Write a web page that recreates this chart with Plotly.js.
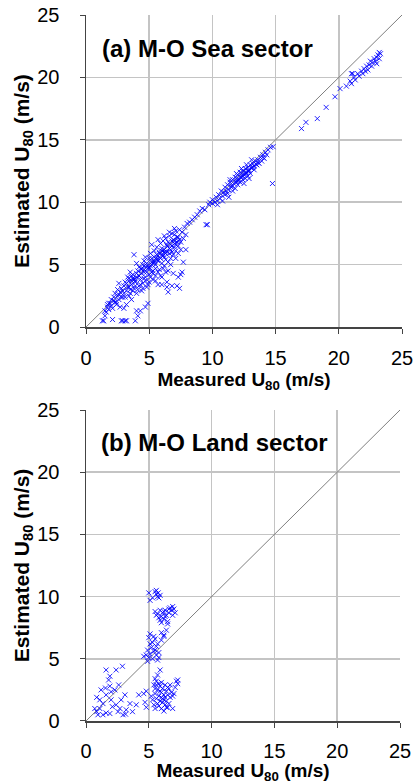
<!DOCTYPE html>
<html>
<head>
<meta charset="utf-8">
<script src="https://cdn.plot.ly/plotly-3.0.1.min.js"></script>
<style>html,body{margin:0;padding:0;background:#fff;}#chart{width:413px;height:784px;}</style>
</head>
<body>
<div id="chart"></div>
<script>
// (a) M-O Sea sector: measured vs estimated U80 (m/s)
const seaMeasured = [
1.3,1.4,1.5,1.6,1.7,1.8,1.9,2.0,2.0,2.1,2.1,2.2,2.3,2.3,2.4,2.5,2.5,2.6,2.6,2.7,2.7,2.8,2.8,2.8,2.9,3.0,3.0,3.0,3.1,3.1,3.2,3.2,3.2,3.3,3.3,3.4,3.4,3.5,3.5,3.6,3.6,3.7,3.7,3.8,3.8,3.9,3.9,4.0,4.0,4.0,4.1,4.1,4.2,4.2,4.3,4.3,4.4,4.4,4.5,4.5,4.6,4.6,4.7,4.7,4.8,4.8,4.9,4.9,5.0,5.0,5.0,5.1,5.1,5.2,5.2,5.3,5.3,5.4,5.4,5.5,5.5,5.6,5.6,5.7,5.7,5.8,5.8,5.9,5.9,6.0,6.0,6.0,6.1,6.1,6.2,6.2,6.3,6.3,6.4,6.4,6.5,6.5,6.5,6.6,6.6,6.7,6.7,6.8,6.8,6.9,6.9,7.0,7.0,7.1,7.1,7.2,7.2,7.3,7.3,7.4,7.4,7.5,7.5,7.6,7.7,7.8,7.9,8.0,8.2,8.4,8.6,8.8,9.0,9.2,9.4,9.5,9.6,9.7,9.8,10.0,
4.4,4.6,4.8,5.2,5.4,5.6,5.8,6.2,6.4,6.6,6.8,7.0,3.6,3.8,4.2,2.4,2.6,2.9,3.4,3.9,1.8,2.2,1.5,1.7,5.0,5.3,5.7,6.1,6.3,6.7,7.1,7.3,
3.2,3.4,3.6,3.8,4.0,4.2,4.4,4.6,4.8,5.0,5.2,5.4,5.6,5.8,6.0,6.2,6.4,6.6,6.8,7.0,7.2,7.4,4.1,4.3,4.5,4.7,4.9,5.1,5.3,5.5,5.7,5.9,6.1,6.3,6.5,6.7,6.9,7.1,7.3,7.5,7.7,7.9,6.0,6.2,5.5,5.2,4.6,3.5,3.7,3.9,2.9,3.1,5.7,6.2,6.6,7.0,4.7,4.0,6.4,6.8,7.6,7.3,
10.0,10.2,10.3,10.4,10.5,10.6,10.7,10.8,10.9,11.0,11.0,11.1,11.2,11.3,11.3,11.4,11.5,11.6,11.6,11.7,11.8,11.8,11.9,12.0,12.0,12.1,12.2,12.2,12.3,12.4,12.4,12.5,12.6,12.6,12.7,12.8,12.8,12.9,13.0,13.0,13.1,13.2,13.3,13.4,13.5,13.6,13.7,13.8,13.9,14.0,14.1,14.2,14.3,14.4,14.6,14.8,14.75,
11.5,11.9,12.3,12.7,13.1,13.5,12.1,12.5,12.9,13.3,
10.4,10.8,11.2,11.6,12.0,12.4,12.8,13.2,13.6,14.0,11.4,11.9,12.3,12.7,13.1,12.5,12.9,
17.05,17.4,18.3,19.0,19.7,20.1,20.6,20.9,21.0,21.0,21.1,21.2,21.3,21.5,21.6,21.8,21.9,22.0,22.1,22.2,22.3,22.4,22.5,22.6,22.7,22.8,22.9,23.0,23.0,23.1,23.2,23.2,23.3
];
const seaEstimated = [
0.5,0.5,0.9,1.2,1.6,1.4,1.9,1.7,2.2,1.5,0.6,2.4,2.0,2.7,1.8,2.5,3.0,2.2,3.5,2.8,1.6,3.1,2.4,0.5,0.5,1.5,3.3,2.7,3.6,0.5,1.8,2.9,0.5,4.0,3.2,2.5,3.7,3.0,4.4,3.4,2.2,3.9,4.2,3.1,5.8,0.5,3.6,1.3,4.0,2.7,4.5,0.9,3.3,4.8,3.8,1.3,4.3,2.9,5.0,3.5,4.6,5.3,4.0,1.6,5.1,3.2,4.7,1.9,5.5,4.2,3.6,5.9,4.9,5.2,6.6,4.5,3.8,5.6,6.1,5.0,4.1,5.8,6.4,5.3,3.4,6.0,4.6,6.7,5.5,6.3,4.0,3.4,6.9,5.8,6.2,4.9,7.1,5.4,6.5,3.2,6.8,4.5,2.8,7.3,5.9,6.6,5.0,7.5,6.0,7.0,4.3,7.4,6.4,5.5,7.7,6.8,3.3,7.2,5.9,7.8,3.1,6.2,4.2,7.6,5.2,8.0,6.2,8.3,8.4,8.6,8.8,9.0,9.3,9.5,9.4,8.2,8.2,9.8,10.0,10.2,
4.6,4.9,4.4,5.0,5.2,5.4,5.6,6.0,6.0,6.3,6.5,6.9,3.7,3.9,4.1,2.0,2.6,2.4,3.2,3.7,1.9,2.1,1.3,1.8,4.8,5.1,5.4,5.7,5.9,6.2,6.6,6.9,
3.5,3.9,4.1,3.8,4.3,4.1,4.7,4.4,4.9,4.7,5.5,5.3,5.6,5.9,6.1,6.0,6.6,6.3,6.9,6.7,7.2,7.0,3.0,3.4,3.1,3.7,3.4,4.0,4.3,3.7,4.4,4.1,4.7,4.4,5.2,5.5,5.8,6.1,6.5,6.8,7.1,7.4,5.1,5.6,4.7,4.4,3.9,2.7,2.9,3.3,2.9,2.4,7.0,7.3,7.6,7.9,5.6,5.1,3.6,3.3,4.4,4.0,
9.9,10.0,10.4,10.1,10.6,10.3,10.9,10.5,10.8,11.2,10.6,10.9,11.4,11.0,10.4,11.6,11.2,11.8,10.9,11.5,12.0,11.1,11.7,12.2,11.4,11.9,12.4,11.6,12.1,12.5,11.8,12.3,12.7,11.9,12.4,12.8,12.1,12.6,13.0,12.3,12.8,13.1,12.6,13.3,13.0,13.4,13.1,13.6,13.3,13.8,13.5,14.0,13.8,14.2,14.4,14.45,11.5,
11.3,11.6,12.0,12.3,12.7,13.0,11.8,12.2,12.5,12.9,
9.8,10.1,10.7,11.3,11.7,12.1,12.5,12.8,13.2,13.6,11.8,12.3,12.7,13.0,13.4,11.5,11.9,
15.9,16.4,16.7,17.6,18.45,19.1,19.3,19.7,19.5,20.3,20.3,20.0,19.8,20.3,20.1,20.5,20.3,20.7,20.5,20.9,20.6,21.0,21.3,20.9,21.2,21.5,21.3,21.6,21.1,21.8,21.5,22.0,21.9
];

// (b) M-O Land sector
const landMeasured = [
5.0,5.5,5.6,5.7,5.8,5.3,5.1,5.6,5.75,5.9,
5.5,5.7,5.9,6.0,6.1,6.2,6.3,6.4,6.5,6.6,6.7,6.8,6.9,7.0,7.1,6.5,5.8,6.0,6.3,5.6,6.6,6.9,6.2,5.9,
5.1,5.0,5.3,5.5,5.6,5.2,5.4,4.9,4.8,4.6,5.0,5.3,5.6,5.7,5.8,4.9,5.1,5.5,6.0,6.2,6.4,6.2,6.0,5.7,5.4,5.1,5.8,
5.9,5.7,5.5,5.6,5.4,5.8,5.5,5.7,5.9,6.0,6.1,6.3,6.4,6.2,6.0,5.8,5.6,5.5,6.5,6.6,6.8,6.7,6.9,7.0,7.2,7.3,7.1,6.9,6.5,6.3,6.1,6.0,5.8,5.7,6.2,6.4,6.6,6.4,6.2,5.9,4.8,4.7,4.8,5.2,5.3,5.4,4.6,5.6,5.9,6.1,6.3,6.0,5.5,7.3,6.7,6.5,
1.6,2.4,2.9,1.9,1.8,1.55,1.9,2.0,1.1,0.85,1.35,0.7,0.95,1.35,1.6,2.1,2.4,2.7,2.95,3.2,2.8,3.1,3.5,4.0,4.2,2.3,2.6,2.0,1.6,1.2,1.9,2.55,3.15,3.7,0.85,1.1
];
const landEstimated = [
10.3,10.4,10.2,10.0,9.9,9.9,9.7,10.5,10.3,10.1,
8.8,8.6,8.9,8.4,8.7,8.2,8.9,8.5,8.0,8.7,9.1,8.9,9.2,9.0,8.7,7.8,8.3,7.9,8.4,8.5,9.0,8.5,8.8,8.1,
7.0,6.7,6.3,6.6,6.0,5.9,5.6,5.7,5.3,5.2,5.1,5.0,5.3,4.9,5.1,4.8,5.4,5.7,6.5,6.8,7.3,6.9,7.1,6.2,6.8,6.2,5.5,
4.1,3.7,3.4,3.2,2.9,3.0,2.6,2.5,2.8,2.3,2.6,2.9,2.4,2.1,1.9,2.0,1.8,2.2,2.1,2.6,2.3,1.9,2.0,2.2,3.2,3.0,2.7,1.0,1.1,1.3,1.5,1.0,1.2,1.4,0.8,1.6,1.4,1.1,1.7,1.6,2.4,1.5,1.1,2.0,1.7,1.3,2.2,2.9,2.4,1.8,1.9,3.1,1.0,3.3,2.9,2.7,
4.1,4.1,4.4,3.6,3.3,2.65,2.8,2.35,1.7,1.9,1.4,1.0,0.5,0.5,0.65,1.15,1.3,1.0,0.5,0.9,1.7,2.1,1.4,1.3,2.1,2.5,2.9,1.7,2.1,2.5,0.6,0.75,0.55,0.75,0.75,1.0
];

const oneToOne = [0, 25];
const tickVals = [0, 5, 10, 15, 20, 25];
const panelLabels = ['<b>(a) M-O Sea sector</b>', '<b>(b) M-O Land sector</b>'];
const xTitle = '<b>Measured U<sub>80</sub> (m/s)</b>';
const yTitle = '<b>Estimated U<sub>80</sub> (m/s)</b>';

const markerStyle = {symbol: 'x-thin-open', size: 5, color: 'rgba(0,0,255,0.85)', line: {width: 1, color: 'rgba(0,0,255,0.85)'}};
const lineStyle = {color: '#7f7f7f', width: 1};

const traces = [
  {x: oneToOne, y: oneToOne, mode: 'lines', line: lineStyle, xaxis: 'x', yaxis: 'y', hoverinfo: 'skip'},
  {x: seaMeasured, y: seaEstimated, mode: 'markers', marker: markerStyle, xaxis: 'x', yaxis: 'y'},
  {x: oneToOne, y: oneToOne, mode: 'lines', line: lineStyle, xaxis: 'x2', yaxis: 'y2', hoverinfo: 'skip'},
  {x: landMeasured, y: landEstimated, mode: 'markers', marker: markerStyle, xaxis: 'x2', yaxis: 'y2'}
];

const FAM = 'Liberation Sans, Arial, sans-serif';
const tickFont = {family: FAM, size: 20, color: '#000'};
const xTitleFont = {family: FAM, size: 19, color: '#000'};
const yTitleFont = {family: FAM, size: 21, color: '#000'};

function axis(extra) {
  return Object.assign({
    range: [0, 25], tickvals: tickVals, ticks: 'outside', ticklen: 5, tickcolor: '#444', tickwidth: 1,
    showline: true, linecolor: '#444', linewidth: 1.5, showgrid: true, gridcolor: '#c4c4c4', gridwidth: 1.5,
    zeroline: false, tickfont: tickFont, fixedrange: true, ticklabeloverflow: 'allow'
  }, extra);
}

const layout = {
  width: 413, height: 784,
  margin: {l: 86, r: 11, t: 15, b: 63},
  paper_bgcolor: '#fff', plot_bgcolor: '#fff',
  showlegend: false,
  xaxis: axis({domain: [0, 1], anchor: 'y', ticklabelstandoff: 7, title: {text: xTitle, font: xTitleFont, standoff: 3}}),
  yaxis: axis({domain: [0.558, 1], anchor: 'x', ticklabelstandoff: 16, title: {text: yTitle, font: yTitleFont, standoff: 2}}),
  xaxis2: axis({domain: [0, 0.9937], anchor: 'y2', ticklabelstandoff: 6, title: {text: xTitle, font: xTitleFont, standoff: 3}}),
  yaxis2: axis({domain: [0, 0.4405], anchor: 'x2', ticklabelstandoff: 16, title: {text: yTitle, font: yTitleFont, standoff: 2}}),
  annotations: [
    {text: panelLabels[0], x: 1.07, y: 22.35, xref: 'x', yref: 'y', xanchor: 'left', yanchor: 'middle', showarrow: false, font: {family: FAM, size: 24, color: '#000'}},
    {text: panelLabels[1], x: 1.07, y: 22.4, xref: 'x2', yref: 'y2', xanchor: 'left', yanchor: 'middle', showarrow: false, font: {family: FAM, size: 24, color: '#000'}}
  ]
};

Plotly.newPlot('chart', traces, layout, {displayModeBar: false, staticPlot: true});
</script>
</body>
</html>
